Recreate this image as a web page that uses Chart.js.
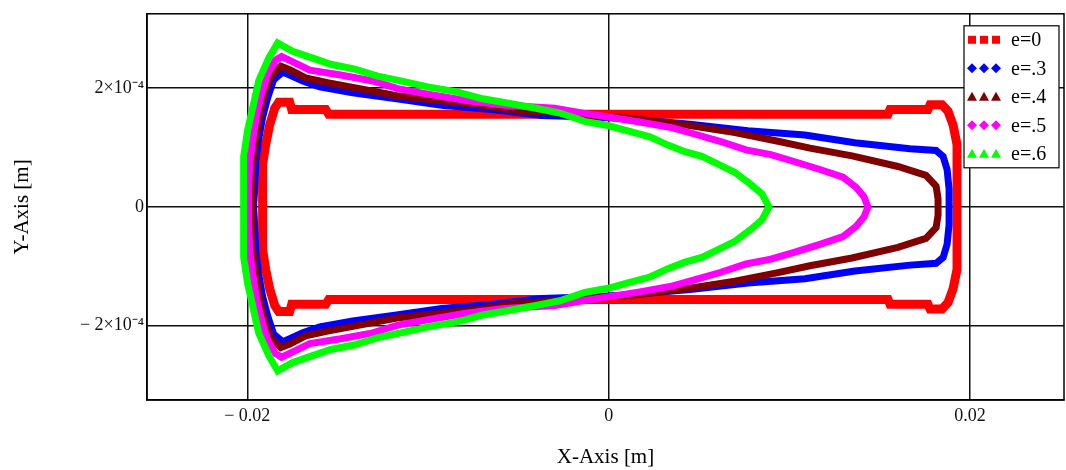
<!DOCTYPE html>
<html>
<head>
<meta charset="utf-8">
<script src="https://cdn.jsdelivr.net/npm/chart.js@4/dist/chart.umd.min.js"></script>
<style>
  html, body { margin: 0; padding: 0; background: #fff; }
  #wrap { width: 1066px; height: 470px; }
</style>
</head>
<body>
<div id="wrap"><canvas id="orbitChart"></canvas></div>
<script>
// axis ticks
const xTickVals = [-0.02, 0, 0.02];
const xTickLabels = ["\u2212 0.02", "0", "0.02"];
const yTickVals = [-2e-4, 0, 2e-4];
const yTickLabels = ["\u2212 2\u00d710\u207b\u2074", "0", "2\u00d710\u207b\u2074"];

const seriesLabels = ["e=0", "e=.3", "e=.4", "e=.5", "e=.6"];

// e=0
const redX = [-0.01915, -0.01915, -0.01898, -0.01876, -0.01848, -0.01826, -0.01765, -0.01754, -0.01566, -0.01549,
  0.01546, 0.01557, 0.01767, 0.01779, 0.01845, 0.01878, 0.01906, 0.01928, 0.01928,
  0.01928, 0.01906, 0.01878, 0.01845, 0.01779, 0.01767, 0.01557, 0.01546, -0.01549,
  -0.01566, -0.01754, -0.01765, -0.01826, -0.01848, -0.01876, -0.01898, -0.01915, -0.01915];
const redY = [0, 0.72e-4, 1.05e-4, 1.38e-4, 1.66e-4, 1.76e-4, 1.76e-4, 1.64e-4, 1.64e-4, 1.56e-4,
  1.56e-4, 1.64e-4, 1.64e-4, 1.72e-4, 1.72e-4, 1.61e-4, 1.38e-4, 1.05e-4, 0,
  -1.05e-4, -1.38e-4, -1.61e-4, -1.72e-4, -1.72e-4, -1.64e-4, -1.64e-4, -1.56e-4, -1.56e-4,
  -1.64e-4, -1.64e-4, -1.76e-4, -1.76e-4, -1.66e-4, -1.38e-4, -1.05e-4, -0.72e-4, 0];

// e=.3
const blueX = [-0.01965, -0.01959, -0.01953, -0.01937, -0.01915, -0.01887, -0.01854, -0.01804, -0.01765, -0.01693,
  -0.01599, -0.01416, -0.01173, -0.00924, -0.00647, -0.00370, -0.00049, 0.00117, 0.00450, 0.00771,
  0.01086, 0.01363, 0.01668, 0.01812, 0.01851, 0.01873, 0.01884, 0.01884,
  0.01884, 0.01873, 0.01851, 0.01812, 0.01668, 0.01363, 0.01086, 0.00771, 0.00450, 0.00117,
  -0.00049, -0.00370, -0.00647, -0.00924, -0.01173, -0.01416, -0.01599, -0.01693, -0.01765, -0.01804,
  -0.01854, -0.01887, -0.01915, -0.01937, -0.01953, -0.01959, -0.01965];
const blueY = [0, 0.30e-4, 0.75e-4, 1.13e-4, 1.51e-4, 1.84e-4, 2.14e-4, 2.27e-4, 2.22e-4, 2.12e-4,
  2.02e-4, 1.92e-4, 1.82e-4, 1.71e-4, 1.64e-4, 1.54e-4, 1.51e-4, 1.48e-4, 1.39e-4, 1.28e-4,
  1.21e-4, 1.08e-4, 0.98e-4, 0.95e-4, 0.85e-4, 0.63e-4, 0.30e-4, 0,
  -0.30e-4, -0.63e-4, -0.85e-4, -0.95e-4, -0.98e-4, -1.08e-4, -1.21e-4, -1.28e-4, -1.39e-4, -1.48e-4,
  -1.51e-4, -1.54e-4, -1.64e-4, -1.71e-4, -1.82e-4, -1.92e-4, -2.02e-4, -2.12e-4, -2.22e-4, -2.27e-4,
  -2.14e-4, -1.84e-4, -1.51e-4, -1.13e-4, -0.75e-4, -0.30e-4, 0];

// e=.4
const maroonX = [-0.01976, -0.01976, -0.01970, -0.01953, -0.01931, -0.01904, -0.01870, -0.01815, -0.01765, -0.01677,
  -0.01555, -0.01378, -0.01173, -0.00935, -0.00702, -0.00508, -0.00215, -0.00049, 0.00117, 0.00422,
  0.00699, 0.00931, 0.01114, 0.01347, 0.01601, 0.01756, 0.01812, 0.01823, 0.01823,
  0.01823, 0.01812, 0.01756, 0.01601, 0.01347, 0.01114, 0.00931, 0.00699, 0.00422, 0.00117,
  -0.00049, -0.00215, -0.00508, -0.00702, -0.00935, -0.01173, -0.01378, -0.01555, -0.01677, -0.01765,
  -0.01815, -0.01870, -0.01904, -0.01931, -0.01953, -0.01970, -0.01976, -0.01976];
const maroonY = [0, 0.30e-4, 0.72e-4, 1.13e-4, 1.55e-4, 1.91e-4, 2.20e-4, 2.37e-4, 2.31e-4, 2.17e-4,
  2.09e-4, 1.99e-4, 1.87e-4, 1.79e-4, 1.71e-4, 1.62e-4, 1.57e-4, 1.52e-4, 1.49e-4, 1.38e-4,
  1.25e-4, 1.11e-4, 0.99e-4, 0.86e-4, 0.68e-4, 0.53e-4, 0.35e-4, 0.14e-4, 0,
  -0.14e-4, -0.35e-4, -0.53e-4, -0.68e-4, -0.86e-4, -0.99e-4, -1.11e-4, -1.25e-4, -1.38e-4, -1.49e-4,
  -1.52e-4, -1.57e-4, -1.62e-4, -1.71e-4, -1.79e-4, -1.87e-4, -1.99e-4, -2.09e-4, -2.17e-4, -2.31e-4,
  -2.37e-4, -2.20e-4, -1.91e-4, -1.55e-4, -1.13e-4, -0.72e-4, -0.30e-4, 0];

// e=.5
const magentaX = [-0.01992, -0.01992, -0.01987, -0.01970, -0.01948, -0.01920, -0.01887, -0.01843, -0.01810, -0.01754,
  -0.01654, -0.01483, -0.01306, -0.01167, -0.00984, -0.00791, -0.00575, -0.00298, -0.00126, 0.00007,
  0.00173, 0.00355, 0.00494, 0.00621, 0.00760, 0.00898, 0.01031, 0.01169, 0.01297, 0.01369,
  0.01413, 0.01435,
  0.01413, 0.01369, 0.01297, 0.01169, 0.01031, 0.00898, 0.00760, 0.00621, 0.00494, 0.00355,
  0.00173, 0.00007, -0.00126, -0.00298, -0.00575, -0.00791, -0.00984, -0.01167, -0.01306, -0.01483,
  -0.01654, -0.01754, -0.01810, -0.01843, -0.01887, -0.01920, -0.01948, -0.01970, -0.01987, -0.01992, -0.01992];
const magentaY = [0, 0.30e-4, 0.72e-4, 1.13e-4, 1.55e-4, 1.91e-4, 2.24e-4, 2.47e-4, 2.53e-4, 2.45e-4,
  2.30e-4, 2.22e-4, 2.12e-4, 1.99e-4, 1.89e-4, 1.79e-4, 1.71e-4, 1.66e-4, 1.57e-4, 1.51e-4,
  1.43e-4, 1.33e-4, 1.21e-4, 1.10e-4, 0.96e-4, 0.88e-4, 0.76e-4, 0.63e-4, 0.50e-4, 0.33e-4,
  0.17e-4, 0,
  -0.17e-4, -0.33e-4, -0.50e-4, -0.63e-4, -0.76e-4, -0.88e-4, -0.96e-4, -1.10e-4, -1.21e-4, -1.33e-4,
  -1.43e-4, -1.51e-4, -1.57e-4, -1.66e-4, -1.71e-4, -1.79e-4, -1.89e-4, -1.99e-4, -2.12e-4, -2.22e-4,
  -2.30e-4, -2.45e-4, -2.53e-4, -2.47e-4, -2.24e-4, -1.91e-4, -1.55e-4, -1.13e-4, -0.72e-4, -0.30e-4, 0];

// e=.6
const greenX = [-0.02020, -0.02020, -0.02020, -0.01998, -0.01970, -0.01937, -0.01882, -0.01832, -0.01749, -0.01654,
  -0.01538, -0.01405, -0.01278, -0.01151, -0.01001, -0.00846, -0.00697, -0.00547, -0.00403, -0.00270,
  -0.00132, -0.00004, 0.00106, 0.00228, 0.00328, 0.00422, 0.00516, 0.00605, 0.00699, 0.00782,
  0.00848, 0.00887,
  0.00848, 0.00782, 0.00699, 0.00605, 0.00516, 0.00422, 0.00328, 0.00228, 0.00106, -0.00004,
  -0.00132, -0.00270, -0.00403, -0.00547, -0.00697, -0.00846, -0.01001, -0.01151, -0.01278, -0.01405,
  -0.01538, -0.01654, -0.01749, -0.01832, -0.01882, -0.01937, -0.01970, -0.01998, -0.02020, -0.02020, -0.02020];
const greenY = [0, 0.47e-4, 0.85e-4, 1.29e-4, 1.67e-4, 2.12e-4, 2.50e-4, 2.76e-4, 2.62e-4, 2.52e-4,
  2.40e-4, 2.32e-4, 2.20e-4, 2.12e-4, 2.02e-4, 1.94e-4, 1.82e-4, 1.74e-4, 1.66e-4, 1.58e-4,
  1.44e-4, 1.37e-4, 1.28e-4, 1.18e-4, 1.04e-4, 0.93e-4, 0.85e-4, 0.72e-4, 0.58e-4, 0.39e-4,
  0.22e-4, 0,
  -0.22e-4, -0.39e-4, -0.58e-4, -0.72e-4, -0.85e-4, -0.93e-4, -1.04e-4, -1.18e-4, -1.28e-4, -1.37e-4,
  -1.44e-4, -1.58e-4, -1.66e-4, -1.74e-4, -1.82e-4, -1.94e-4, -2.02e-4, -2.12e-4, -2.20e-4, -2.32e-4,
  -2.40e-4, -2.52e-4, -2.62e-4, -2.76e-4, -2.50e-4, -2.12e-4, -1.67e-4, -1.29e-4, -0.85e-4, -0.47e-4, 0];

const pts = (xs, ys) => xs.map((x, i) => ({ x: x, y: ys[i] }));

const serif = "'Liberation Serif', 'Times New Roman', serif";

function mkSet(label, xs, ys, color, width, style, order) {
  return {
    label: label,
    data: pts(xs, ys),
    showLine: true,
    borderColor: color,
    backgroundColor: color,
    borderWidth: width,
    borderJoinStyle: "miter",
    pointStyle: style,
    pointRadius: 0,
    tension: 0,
    order: order
  };
}

// frame around plot area
const framePlugin = {
  id: "frame",
  beforeDatasetsDraw(chart) {
    const a = chart.chartArea, ctx = chart.ctx;
    ctx.save();
    ctx.strokeStyle = "#000";
    ctx.lineWidth = 1.5;
    ctx.strokeRect(a.left, a.top, a.right - a.left, a.bottom - a.top);
    ctx.restore();
  }
};

// mathcad style legend box
const legendBox = {
  id: "legendBox",
  afterDraw(chart) {
    const a = chart.chartArea, ctx = chart.ctx;
    const bx = a.right - 100, by = a.top + 12, bw = 95, bh = 142;
    ctx.save();
    ctx.fillStyle = "#fff";
    ctx.fillRect(bx, by, bw, bh);
    ctx.strokeStyle = "#000";
    ctx.lineWidth = 1.2;
    ctx.strokeRect(bx, by, bw, bh);
    chart.data.datasets.forEach((ds, i) => {
      const cy = by + 14 + i * 28.5;
      ctx.fillStyle = ds.borderColor;
      for (let k = 0; k < 3; k++) {
        const cx = bx + 8 + k * 12;
        ctx.beginPath();
        if (ds.pointStyle === "rect") {
          ctx.rect(cx - 4, cy - 4, 8, 8);
        } else if (ds.pointStyle === "rectRot") {
          ctx.moveTo(cx, cy - 5); ctx.lineTo(cx + 5, cy); ctx.lineTo(cx, cy + 5); ctx.lineTo(cx - 5, cy);
        } else {
          ctx.moveTo(cx, cy - 5); ctx.lineTo(cx + 5, cy + 4); ctx.lineTo(cx - 5, cy + 4);
        }
        ctx.closePath();
        ctx.fill();
      }
      ctx.fillStyle = "#000";
      ctx.font = "20px " + serif;
      ctx.textBaseline = "middle";
      ctx.textAlign = "left";
      ctx.fillText(ds.label, bx + 47, cy + 1);
    });
    ctx.restore();
  }
};

new Chart(document.getElementById("orbitChart"), {
  type: "scatter",
  data: {
    datasets: [
      mkSet(seriesLabels[0], redX, redY, "#ff0000", 9, "rect", 5),
      mkSet(seriesLabels[1], blueX, blueY, "#0000ff", 7, "rectRot", 4),
      mkSet(seriesLabels[2], maroonX, maroonY, "#800000", 7, "triangle", 3),
      mkSet(seriesLabels[3], magentaX, magentaY, "#ff00ff", 7, "rectRot", 2),
      mkSet(seriesLabels[4], greenX, greenY, "#00ff00", 7, "triangle", 1)
    ]
  },
  options: {
    responsive: true,
    maintainAspectRatio: false,
    animation: false,
    layout: { padding: { top: 6.5, right: 2, left: 0, bottom: 0 } },
    plugins: {
      legend: { display: false },
      tooltip: { enabled: false }
    },
    scales: {
      x: {
        type: "linear",
        min: -0.02555,
        max: 0.0252,
        afterFit(scale) { scale.height = 70; },
        afterBuildTicks(scale) { scale.ticks = xTickVals.map(v => ({ value: v })); },
        ticks: {
          autoSkip: false,
          maxRotation: 0,
          padding: 5,
          color: "#111",
          font: { family: serif, size: 18 },
          callback: (v, i) => xTickLabels[i]
        },
        grid: { color: "#111", lineWidth: 1.5, drawTicks: false },
        border: { display: true, color: "#000", width: 1.5 },
        title: {
          display: true,
          text: "X-Axis [m]",
          color: "#000",
          font: { family: serif, size: 21 },
          padding: { top: 0, bottom: 0 }
        }
      },
      y: {
        type: "linear",
        min: -3.25e-4,
        max: 3.25e-4,
        afterFit(scale) { scale.width = 147; },
        afterBuildTicks(scale) { scale.ticks = yTickVals.map(v => ({ value: v })); },
        ticks: {
          autoSkip: false,
          padding: 3,
          color: "#111",
          font: { family: serif, size: 18 },
          callback: (v, i) => yTickLabels[i]
        },
        grid: { color: "#111", lineWidth: 1.5, drawTicks: false },
        border: { display: true, color: "#000", width: 1.5 },
        title: {
          display: true,
          text: "Y-Axis [m]",
          color: "#000",
          font: { family: serif, size: 21 },
          padding: { top: 10, bottom: 0 }
        }
      }
    }
  },
  plugins: [framePlugin, legendBox]
});
</script>
</body>
</html>
